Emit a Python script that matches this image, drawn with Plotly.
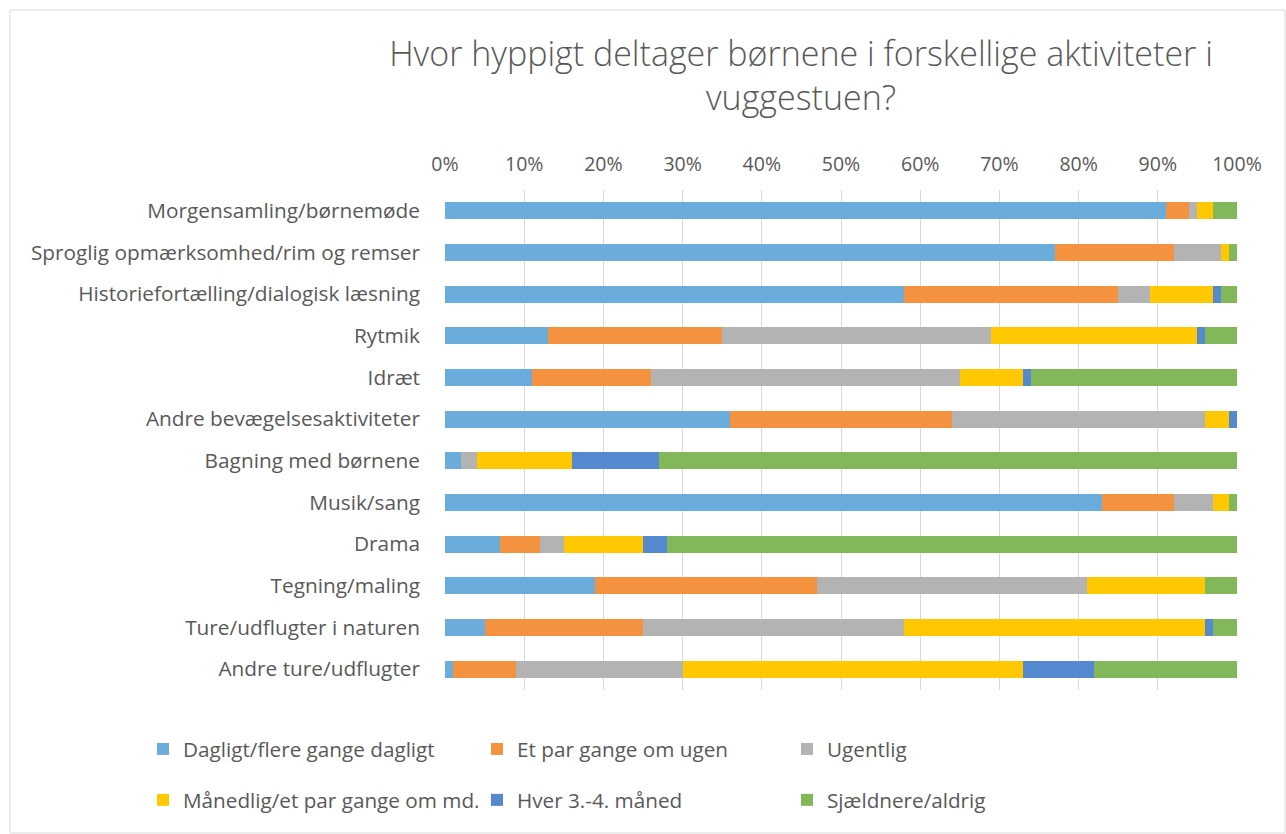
import plotly.graph_objects as go

# Activities (top to bottom) and share of answers per frequency, in percent
activities = [
    "Morgensamling/børnemøde",
    "Sproglig opmærksomhed/rim og remser",
    "Historiefortælling/dialogisk læsning",
    "Rytmik",
    "Idræt",
    "Andre bevægelsesaktiviteter",
    "Bagning med børnene",
    "Musik/sang",
    "Drama",
    "Tegning/maling",
    "Ture/udflugter i naturen",
    "Andre ture/udflugter",
]

dagligt = [91, 77, 58, 13, 11, 36, 2, 83, 7, 19, 5, 1]
par_gange_ugen = [3, 15, 27, 22, 15, 28, 0, 9, 5, 28, 20, 8]
ugentlig = [1, 6, 4, 34, 39, 32, 2, 5, 3, 34, 33, 21]
maanedlig = [2, 1, 8, 26, 8, 3, 12, 2, 10, 15, 38, 43]
hver_3_4 = [0, 0, 1, 1, 1, 1, 11, 0, 3, 0, 1, 9]
sjaeldnere = [3, 1, 2, 4, 26, 0, 73, 1, 72, 4, 3, 18]

series_names = [
    "Dagligt/flere gange dagligt",
    "Et par gange om ugen",
    "Ugentlig",
    "Månedlig/et par gange om md.",
    "Hver 3.-4. måned",
    "Sjældnere/aldrig",
]
series_values = [dagligt, par_gange_ugen, ugentlig, maanedlig, hver_3_4, sjaeldnere]
series_colors = ["#6AACDC", "#F4923F", "#B3B3B3", "#FFC800", "#5589CF", "#82B85A"]
# Legend laid out as three columns of two entries each
legend_ids = ["legend", "legend2", "legend3", "legend", "legend2", "legend3"]

tick_vals = [0, 10, 20, 30, 40, 50, 60, 70, 80, 90, 100]
tick_text = [f"{v}%" for v in tick_vals]

FONT = "Open Sans"
TEXT = "#595959"

fig = go.Figure()
for name, vals, color, lg in zip(series_names, series_values, series_colors, legend_ids):
    fig.add_trace(go.Bar(
        y=activities, x=vals, name=name, orientation="h",
        marker=dict(color=color, line=dict(width=0)),
        legend=lg, legendgroup=name,
    ))

W, H = 1286, 834
L, R, T, B = 445, 49, 190, 0
PLOT_BOTTOM = 690  # pixel row where the bar area ends; legend sits below it
pw, ph = W - L - R, H - T - B

def px_x(px):
    return (px - L) / pw

def px_y(py):
    return (H - B - py) / ph

def legend_column(text_left):
    return dict(
        orientation="v", x=px_x(text_left - 40), xanchor="left",
        y=px_y(729), yanchor="top",
        font=dict(size=20.7, color=TEXT), itemwidth=30,
        traceorder="grouped", tracegroupgap=21,
        bgcolor="rgba(0,0,0,0)",
    )

fig.update_layout(
    width=W, height=H,
    barmode="stack",
    bargap=0.59,
    paper_bgcolor="white", plot_bgcolor="white",
    margin=dict(l=L, r=R, t=T, b=B),
    font=dict(family=FONT, color=TEXT, size=21),
    title=dict(
        text="Hvor hyppigt deltager børnene i forskellige aktiviteter i<br>vuggestuen?",
        font=dict(family=FONT, size=34, color=TEXT, weight=300),
        x=801 / W, xanchor="center", xref="container",
        y=1 - 66 / H, yanchor="middle", yref="container",
    ),
    xaxis=dict(
        side="top", range=[0, 100],
        tickvals=tick_vals, ticktext=tick_text,
        showgrid=True, gridcolor="#D9D9D9", gridwidth=1,
        zeroline=False, showline=False, ticks="",
        ticklabelstandoff=14,
        tickfont=dict(size=19.5, color=TEXT),
        fixedrange=True,
    ),
    yaxis=dict(
        domain=[px_y(PLOT_BOTTOM), 1],
        autorange="reversed", showgrid=False, zeroline=False,
        showline=False, ticks="", ticklabelstandoff=24,
        tickfont=dict(size=20.8, color=TEXT),
    ),
    legend=legend_column(183),
    legend2=legend_column(517),
    legend3=legend_column(827),
    shapes=[dict(
        type="rect", xref="paper", yref="paper",
        x0=px_x(10), x1=px_x(1285), y0=px_y(833), y1=px_y(10),
        line=dict(color="#D9D9D9", width=1), fillcolor="rgba(0,0,0,0)",
        layer="below",
    )],
)

fig.write_html("out.html")
